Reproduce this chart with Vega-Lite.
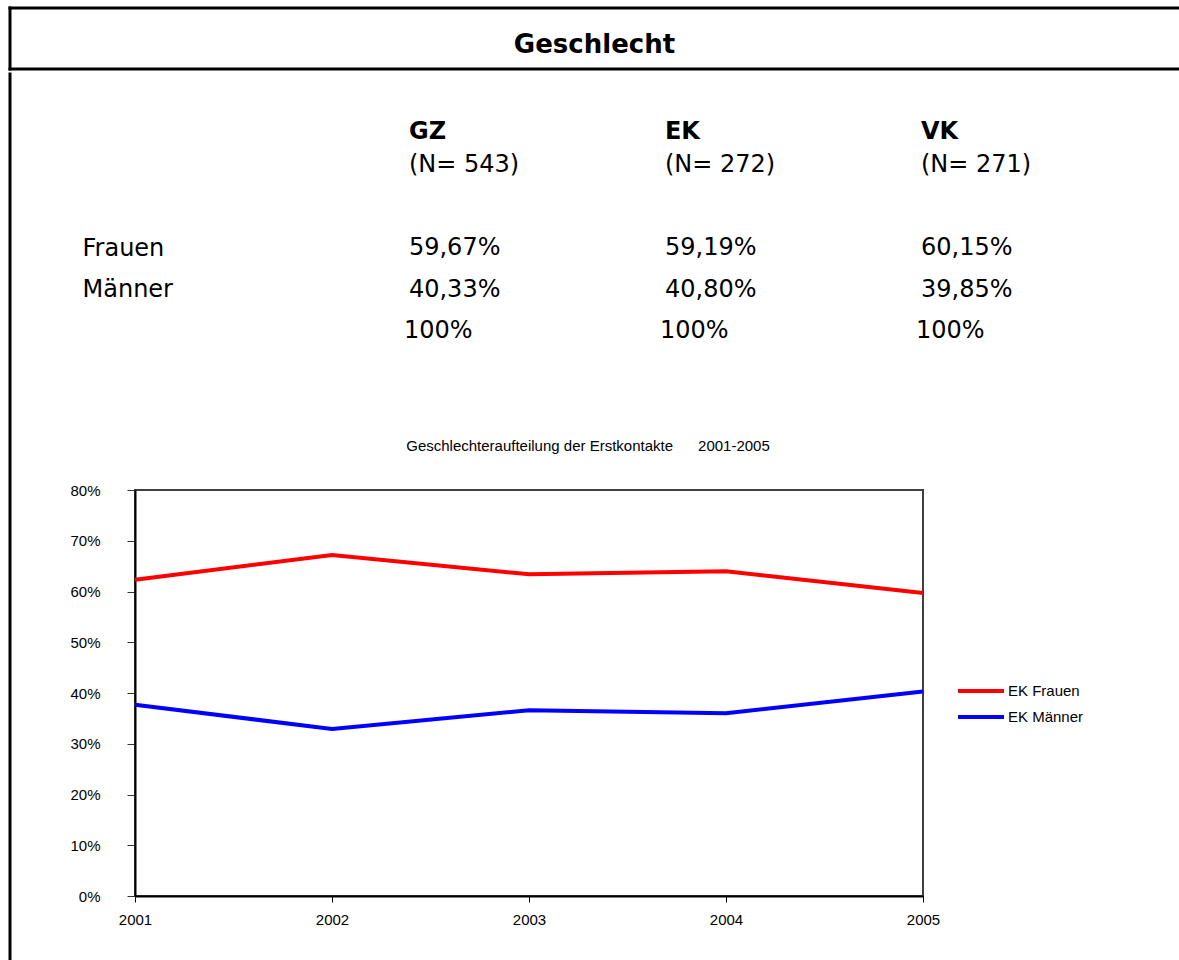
{
  "$schema": "https://vega.github.io/schema/vega-lite/v6.json",
  "padding": {"left": 7, "top": 5, "right": 0, "bottom": 0},
  "background": "white",
  "config": {
    "font": "Liberation Sans",
    "view": {"stroke": null},
    "axis": {"labelColor": "black", "titleColor": "black"}
  },
  "spacing": 0,
  "vconcat": [
    {
      "width": 1169,
      "height": 61,
      "title": {
        "text": "Geschlecht",
        "font": "DejaVu Sans",
        "fontSize": 26,
        "fontWeight": "bold",
        "color": "black",
        "anchor": "middle",
        "frame": "group",
        "baseline": "bottom",
        "offset": -78
      },
      "data": {"values": [{}]},
      "layer": [
        {
          "mark": {"type": "rule", "color": "black", "strokeWidth": 3, "strokeCap": "square"},
          "encoding": {"y": {"datum": 1, "type": "quantitative", "scale": {"domain": [0, 1]}, "axis": null}}
        },
        {
          "mark": {"type": "rule", "color": "black", "strokeWidth": 3, "strokeCap": "square"},
          "encoding": {"y": {"datum": 0, "type": "quantitative", "scale": {"domain": [0, 1]}, "axis": null}}
        },
        {
          "mark": {"type": "rule", "color": "black", "strokeWidth": 3, "strokeCap": "square"},
          "encoding": {"x": {"datum": 0, "type": "quantitative", "scale": {"domain": [0, 1]}, "axis": null}}
        }
      ]
    },
    {
      "spacing": 56,
      "hconcat": [
        {
          "width": 0.01,
          "height": 887,
          "view": {"stroke": "black", "strokeWidth": 3},
          "data": {"values": [{"leer": ""}]},
          "mark": {"type": "text"},
          "encoding": {"text": {"field": "leer"}}
        },
        {
          "spacing": 73,
          "vconcat": [
            {
              "width": 786,
              "height": 290.5,
              "data": {
                "values": [
                  {"spalte": "GZ", "zeile": "kopf", "text": "GZ"},
                  {"spalte": "EK", "zeile": "kopf", "text": "EK"},
                  {"spalte": "VK", "zeile": "kopf", "text": "VK"},
                  {"spalte": "GZ", "zeile": "n", "text": "(N= 543)"},
                  {"spalte": "EK", "zeile": "n", "text": "(N= 272)"},
                  {"spalte": "VK", "zeile": "n", "text": "(N= 271)"},
                  {"spalte": "GZ", "zeile": "Frauen", "text": "59,67%"},
                  {"spalte": "EK", "zeile": "Frauen", "text": "59,19%"},
                  {"spalte": "VK", "zeile": "Frauen", "text": "60,15%"},
                  {"spalte": "GZ", "zeile": "Männer", "text": "40,33%"},
                  {"spalte": "EK", "zeile": "Männer", "text": "40,80%"},
                  {"spalte": "VK", "zeile": "Männer", "text": "39,85%"},
                  {"spalte": "GZ", "zeile": "summe", "text": "100%"},
                  {"spalte": "EK", "zeile": "summe", "text": "100%"},
                  {"spalte": "VK", "zeile": "summe", "text": "100%"}
                ]
              },
              "encoding": {
                "x": {
                  "field": "spalte",
                  "type": "nominal",
                  "scale": {"type": "point", "domain": ["GZ", "EK", "VK"], "padding": 0.535, "align": 1},
                  "axis": null
                },
                "y": {
                  "field": "zeile",
                  "type": "nominal",
                  "scale": {"type": "point", "domain": ["kopf", "n", "leer", "Frauen", "Männer", "summe"], "padding": 1, "align": 0.6},
                  "axis": {
                    "values": ["Frauen", "Männer"],
                    "domain": false,
                    "ticks": false,
                    "tickSize": 0,
                    "grid": false,
                    "title": null,
                    "labelAlign": "left",
                    "labelPadding": 53,
                    "labelFont": "DejaVu Sans",
                    "labelFontSize": 24,
                    "labelColor": "black",
                    "labelBaseline": "middle"
                  }
                },
                "text": {"field": "text"}
              },
              "layer": [
                {
                  "transform": [{"filter": "datum.zeile === 'kopf'"}],
                  "mark": {"type": "text", "align": "left", "baseline": "middle", "font": "DejaVu Sans", "fontSize": 24, "fontWeight": "bold", "color": "black", "dy": 8}
                },
                {
                  "transform": [{"filter": "datum.zeile !== 'kopf' && datum.zeile !== 'summe'"}],
                  "mark": {"type": "text", "align": "left", "baseline": "middle", "font": "DejaVu Sans", "fontSize": 24, "color": "black"}
                },
                {
                  "transform": [{"filter": "datum.zeile === 'summe'"}],
                  "mark": {"type": "text", "align": "left", "baseline": "middle", "font": "DejaVu Sans", "fontSize": 24, "color": "black", "dx": -5}
                }
              ]
            },
            {
              "width": 788,
              "height": 406,
              "view": {"stroke": "#404040", "strokeWidth": 2},
              "title": {
                "text": "Geschlechteraufteilung der Erstkontakte\u00a0\u00a0\u00a0\u00a0\u00a0\u00a02001-2005",
                "font": "Liberation Sans",
                "fontSize": 15,
                "fontWeight": "normal",
                "color": "black",
                "anchor": "middle",
                "frame": "group",
                "baseline": "bottom",
                "offset": 14,
                "dx": 59
              },
              "data": {
                "values": [
                  {"Jahr": "2001", "Gruppe": "EK Frauen", "Anteil": 0.623},
                  {"Jahr": "2002", "Gruppe": "EK Frauen", "Anteil": 0.672},
                  {"Jahr": "2003", "Gruppe": "EK Frauen", "Anteil": 0.634},
                  {"Jahr": "2004", "Gruppe": "EK Frauen", "Anteil": 0.640},
                  {"Jahr": "2005", "Gruppe": "EK Frauen", "Anteil": 0.597},
                  {"Jahr": "2001", "Gruppe": "EK Männer", "Anteil": 0.377},
                  {"Jahr": "2002", "Gruppe": "EK Männer", "Anteil": 0.329},
                  {"Jahr": "2003", "Gruppe": "EK Männer", "Anteil": 0.366},
                  {"Jahr": "2004", "Gruppe": "EK Männer", "Anteil": 0.360},
                  {"Jahr": "2005", "Gruppe": "EK Männer", "Anteil": 0.403}
                ]
              },
              "mark": {"type": "line", "strokeWidth": 4},
              "encoding": {
                "x": {
                  "field": "Jahr",
                  "type": "ordinal",
                  "scale": {"type": "point", "padding": 0},
                  "axis": {
                    "title": null,
                    "labelAngle": 0,
                    "labelFont": "Liberation Sans",
                    "labelFontSize": 15,
                    "labelColor": "black",
                    "labelPadding": 10,
                    "tickSize": 6,
                    "tickColor": "black",
                    "domainColor": "black",
                    "domainWidth": 2,
                    "grid": false
                  }
                },
                "y": {
                  "field": "Anteil",
                  "type": "quantitative",
                  "scale": {"domain": [0, 0.8], "nice": false},
                  "axis": {
                    "title": null,
                    "values": [0, 0.1, 0.2, 0.3, 0.4, 0.5, 0.6, 0.7, 0.8],
                    "format": ".0%",
                    "labelFont": "Liberation Sans",
                    "labelFontSize": 15,
                    "labelColor": "black",
                    "labelPadding": 27,
                    "tickSize": 8,
                    "tickColor": "#333333",
                    "domainColor": "black",
                    "domainWidth": 2,
                    "grid": false
                  }
                },
                "color": {
                  "field": "Gruppe",
                  "type": "nominal",
                  "scale": {"domain": ["EK Frauen", "EK Männer"], "range": ["#ff0000", "#0000ff"]},
                  "legend": {
                    "title": null,
                    "orient": "none",
                    "legendX": 946,
                    "legendY": 675,
                    "symbolType": "stroke",
                    "symbolSize": 2116,
                    "symbolStrokeWidth": 4,
                    "clipHeight": 16,
                    "labelFont": "Liberation Sans",
                    "labelFontSize": 15,
                    "labelColor": "black",
                    "labelOffset": 2,
                    "rowPadding": 10
                  }
                }
              }
            }
          ]
        }
      ]
    }
  ]
}
